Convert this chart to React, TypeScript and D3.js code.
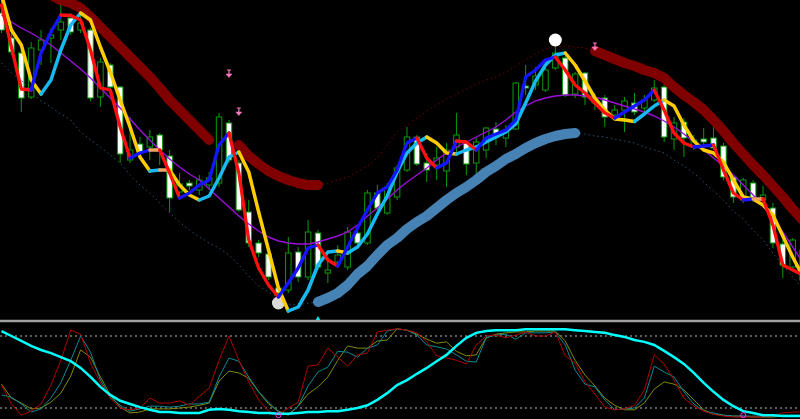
import React from 'react';
import * as d3 from 'd3';

const W = 800;
const H = 419;

// ---- main panel data (price units) ----
const opens = [987, 962, 947, 903, 950, 962, 970, 982, 970, 970,
  903, 935, 913, 840, 856, 853, 865, 844, 808, 817,
  810, 815, 817, 877, 837, 788, 757, 746, 712, 710,
  748, 723, 767, 727, 738, 733, 767, 757, 807, 787,
  803, 830, 863, 837, 835, 829, 853, 857, 837, 850,
  871, 862, 871, 914, 915, 910, 932, 942, 906, 927,
  897, 902, 885, 890, 897, 892, 900, 913, 861, 878,
  853, 861, 862, 854, 823, 800, 817, 800, 792, 756,
  733, 720];
const highs = [1000, 967, 950, 958, 970, 972, 1000, 987, 985, 972,
  942, 937, 914, 883, 863, 870, 867, 850, 827, 820,
  825, 828, 887, 880, 840, 800, 760, 753, 718, 763,
  753, 780, 770, 743, 755, 773, 770, 810, 815, 817,
  835, 873, 865, 847, 853, 857, 887, 860, 862, 873,
  878, 875, 918, 935, 933, 940, 954, 944, 928, 928,
  907, 905, 895, 903, 907, 905, 920, 915, 883, 882,
  865, 872, 875, 857, 825, 822, 820, 814, 797, 760,
  762, 755];
const lows = [967, 945, 888, 901, 935, 937, 960, 965, 967, 899,
  893, 905, 837, 837, 843, 840, 835, 788, 805, 810,
  805, 810, 813, 837, 788, 753, 743, 720, 700, 707,
  718, 720, 730, 717, 732, 730, 753, 755, 790, 785,
  800, 828, 834, 818, 820, 813, 845, 825, 825, 842,
  855, 853, 870, 905, 910, 908, 930, 903, 902, 895,
  890, 873, 882, 868, 885, 888, 898, 858, 850, 843,
  850, 855, 850, 820, 797, 797, 798, 795, 752, 722,
  730, 715];
const closes = [970, 948, 902, 952, 960, 965, 978, 968, 977, 902,
  938, 913, 846, 850, 848, 863, 850, 802, 816, 814,
  820, 822, 883, 840, 790, 757, 747, 723, 707, 747,
  723, 768, 733, 730, 745, 768, 757, 807, 792, 813,
  832, 863, 836, 830, 842, 850, 865, 836, 858, 872,
  863, 870, 917, 912, 924, 930, 947, 905, 926, 903,
  902, 883, 890, 899, 888, 900, 912, 863, 877, 862,
  860, 858, 852, 823, 803, 820, 800, 805, 757, 735,
  760, 750];

const fastMA = [995, 953, 911, 910, 947, 968, 985, 984.5, 980, 950,
  912, 910, 873, 842, 847, 850, 850, 827, 802, 807,
  815, 820, 855, 867, 827, 760, 732, 715, 703, 717,
  732, 752, 755, 740, 734, 753, 772, 790, 807, 813,
  830, 857, 862, 842, 832, 837, 859, 858, 850, 862,
  866, 870, 880, 923, 930, 940, 943, 930, 915, 907,
  897, 887, 882, 888, 894, 900, 910, 890, 867, 857,
  853, 854, 855, 830, 807, 800, 801, 801, 775, 735,
  730, 725];
const slowMA = [1005, 970, 955, 920, 906, 920, 950, 975, 987, 980,
  953, 928, 900, 873, 843, 829, 830, 830, 815, 805,
  800, 804, 822, 843, 848, 828, 788, 750, 712, 689,
  693, 710, 735, 748, 749, 747, 753, 766, 786, 804,
  828, 847, 857, 863, 857, 847, 846, 850, 853, 858,
  863, 868, 876, 897, 919, 935, 945, 947, 935, 919,
  902, 890, 881, 880, 878.5, 886, 894, 900, 894, 875,
  859, 850, 847, 838, 820, 803, 801, 795, 785, 764,
  743, 724];
const midMA = [985, 978, 972, 967, 961, 955, 947, 939, 931, 922,
  912, 902, 892, 881, 870, 860, 850, 841, 833, 826,
  820, 811, 802, 793, 784, 776, 769, 763, 759, 757,
  756, 756, 758, 761, 764, 768, 775, 784, 792, 801,
  810, 818, 825, 832, 840, 847, 853, 858, 863, 868,
  873, 880, 888, 894, 899, 902, 904, 905, 905, 904,
  903, 900, 897, 894, 891, 888, 884, 879, 873, 866,
  858, 850, 842, 834, 825, 815, 805, 794, 782, 768,
  753, 738];
const upperBand: (number | null)[] = [1036, 1030, 1024, 1018, 1012, 1005, 1000, 997, 992, 983,
  973, 963, 953, 943, 933, 923, 912, 900, 890, 880,
  870, 860, null, null, 855, 844, 836, 829, 824, 820,
  817, 815, 815, 817, 820, 823, 828, 834, 842, 855,
  868, 875, 882, 889, 895, 901, 906, 911, 916, 920,
  923, 928, 934, 940, 946, 951, 953, 954, 953, 952,
  949, 945, 941, 937, 934, 930, 927, 922, 913, 905,
  898, 890, 880, 869, 857, 846, 835, 825, 814, 803,
  791, 780];
const lowerBand = [937, 927, 920, 908, 899, 893, 886, 880, 868, 860,
  853, 845, 837, 825, 815, 807, 797, 787, 778, 770,
  763, 757, 752, 745, 735, 724, 714, 708, 702, 696,
  695, 697, 698, 702, 707, 715, 726, 734, 745, 755,
  762, 771, 778, 784, 792, 800, 807, 813, 820, 828,
  834, 841, 846, 852, 857, 861, 864, 866, 867, 866,
  864, 863, 861, 859, 857, 853, 850, 847, 840, 834,
  827, 818, 809, 800, 789, 781, 770, 760, 747, 735,
  723, 712];
const trend = [-1, -1, -1, -1, -1, -1, -1, -1, -1, -1,
  -1, -1, -1, -1, -1, -1, -1, -1, -1, -1,
  -1, -1, -1, -1, -1, -1, -1, -1, -1, -1,
  -1, -1, -1, 1, 1, 1, 1, 1, 1, 1,
  1, 1, 1, 1, 1, 1, 1, 1, 1, 1,
  1, 1, 1, 1, 1, 1, 1, 1, 1, 0,
  0, -1, -1, -1, -1, -1, -1, -1, -1, -1,
  -1, -1, -1, -1, -1, -1, -1, -1, -1, -1,
  -1, -1];

const sellArrows = [{ i: 23, price: 926 }, { i: 24, price: 888 }, { i: 60, price: 953 }];
const signalDots = [{ i: 28, price: 697 }, { i: 56, price: 960 }];
const buyMarks = [{ i: 32, price: 682 }];

// ---- oscillator panel data (0..100) ----
const oscCyan = [95.5, 90, 84.5, 79, 74.5, 71, 66.5, 62, 54.5, 44.5,
  33.5, 24.5, 18, 14.5, 11, 8, 5.5, 5.5, 4.5, 4.5,
  4.5, 8, 9, 8, 6.5, 5.5, 4.5, 4.5, 3.5, 3.5,
  4.5, 5.5, 5.5, 6.5, 6.5, 8, 10, 13, 19, 26.5,
  35.5, 41, 48, 54.5, 62, 69, 79, 88, 93.5, 95.5,
  96.5, 96.5, 96.5, 97.5, 97.5, 97.5, 97.5, 97.5, 96.5, 95.5,
  94.5, 93.5, 91, 89, 85.5, 83.5, 80, 73.5, 66.5, 59,
  49, 38, 28, 19, 12, 6.5, 4.5, 2, 2, 1,
  1, 1];
const oscRed = [35.5, 14.5, 2, 6.5, 14.5, 35.5, 63, 96.5, 92, 60,
  38, 21, 10, 8, 10, 21, 15.5, 15.5, 18, 13,
  23, 32, 63, 90, 63, 39, 19, 6.5, 2, 10,
  16.5, 56.5, 58, 76.5, 66.5, 56.5, 69, 71, 94.5, 96.5,
  98, 96.5, 93.5, 83.5, 68, 65.5, 63, 59, 80, 90,
  91, 88, 91, 94.5, 90, 90, 94.5, 68, 60, 39,
  25.5, 11, 8, 9, 13, 30, 69, 59, 41, 21,
  12, 6.5, 3, 1, 0, 0, 0, 0, 1, 4.5,
  5.5, 5.5];
const oscTeal = [24.5, 22, 14.5, 5.5, 9, 21, 38, 63, 90, 72,
  41, 22, 13, 6.5, 9, 12, 12, 11, 12, 14.5,
  14.5, 16.5, 44.5, 65.5, 62, 44.5, 28, 16.5, 5.5, 2,
  12, 34.5, 50, 55.5, 73, 72, 66.5, 76.5, 80, 95.5,
  98, 96.5, 91, 80, 78, 75.5, 69, 62, 61, 88,
  91, 92, 86.5, 93.5, 93.5, 93.5, 94.5, 80, 52, 36.5,
  33.5, 19, 8, 9, 10, 21, 56.5, 50, 44.5, 28,
  14.5, 6.5, 4.5, 2, 1, 1, 1, 1, 1, 2,
  2, 2];
const oscOlive = [36.5, 21, 15.5, 9, 10, 16.5, 26.5, 45.5, 74.5, 66.5,
  44.5, 24.5, 11, 4.5, 5.5, 9, 9, 9, 10, 11,
  13, 15.5, 40, 51, 49, 43, 28, 14.5, 6.5, 3,
  12, 25.5, 33.5, 44.5, 63, 79, 76.5, 76.5, 84.5, 85.5,
  98, 96.5, 92, 86.5, 82, 83.5, 73, 68, 69, 88,
  92, 93.5, 94.5, 94.5, 95.5, 95.5, 95.5, 84.5, 63, 46.5,
  34.5, 21, 13, 8, 8, 15.5, 31, 39, 36.5, 30,
  19, 8, 3, 2, 1, 1, 0, 0, 0, 1,
  1, 1];
const oscLevels = [90, 10];
const oscMarks = [{ i: 28, v: 2 }, { i: 75, v: 2 }];

// ---- helpers ----
function runs(n: number, keyOf: (i: number) => string | null) {
  const out: { key: string; idx: number[] }[] = [];
  for (let i = 1; i < n; i++) {
    const k = keyOf(i);
    if (k === null) continue;
    const last = out[out.length - 1];
    if (last && last.key === k && last.idx[last.idx.length - 1] === i - 1) last.idx.push(i);
    else out.push({ key: k, idx: [i - 1, i] });
  }
  return out;
}

export default function App() {
  const n = closes.length;
  const x = d3.scaleLinear().domain([0, 80]).range([1.5, 792.7]);
  const y = d3.scaleLinear().domain([680, 1000]).range([320, 0]);
  const yo = d3.scaleLinear().domain([0, 100]).range([417, 327]);

  const lineOf = (vals: (number | null)[]) =>
    d3.line<number>().x((i) => x(i)).y((i) => y(vals[i] as number));
  const oscLine = (vals: number[]) =>
    d3.line<number>().x((_, k) => x(k)).y((v) => yo(v))(vals) || '';

  const dirKey = (vals: number[], up: string, down: string, flat: string) => (i: number) =>
    vals[i] > vals[i - 1] ? up : vals[i] < vals[i - 1] ? down : flat;

  const fastRuns = runs(n, dirKey(fastMA, '#1515ff', '#ff1010', '#f4a460'));
  const slowRuns = runs(n, dirKey(slowMA, '#18b8f0', '#ffcc00', '#f4a460'));

  const upThick = runs(n, (i) => (upperBand[i] != null && upperBand[i - 1] != null && trend[i] === -1 ? 'a' : null));
  const upDot = runs(n, (i) => (upperBand[i] != null && upperBand[i - 1] != null && trend[i] !== -1 ? 'a' : null));
  const loThick = runs(n, (i) => (trend[i] === 1 ? 'a' : null));
  const loDot = runs(n, (i) => (trend[i] !== 1 ? 'a' : null));

  const green = '#0a9a0a';
  const bodyW = 5.5;

  return (
    <svg width={W} height={H} style={{ position: 'absolute', left: 0, top: 0, display: 'block' }}>
      <defs>
        <clipPath id="mainClip"><rect x={0} y={0} width={W} height={320} /></clipPath>
        <clipPath id="oscClip"><rect x={0} y={323} width={W} height={H - 323} /></clipPath>
      </defs>
      <rect x={0} y={0} width={W} height={H} fill="#000" />

      <g clipPath="url(#mainClip)">
        {closes.map((c, i) => {
          const o = opens[i];
          const top = y(Math.max(o, c));
          const h = Math.max(1, Math.abs(y(o) - y(c)));
          return (
            <g key={i}>
              <line x1={x(i)} x2={x(i)} y1={y(highs[i])} y2={y(lows[i])} stroke={green} strokeWidth={1} />
              <rect x={x(i) - bodyW / 2} y={top} width={bodyW} height={h}
                fill={c < o ? '#ffffff' : '#000000'} stroke={green} strokeWidth={1} />
            </g>
          );
        })}

        {upDot.map((r, k) => (
          <path key={'ud' + k} d={lineOf(upperBand)(r.idx) || ''} fill="none" stroke="#7a0000" strokeWidth={1} strokeDasharray="1.5 3" />
        ))}
        {loDot.map((r, k) => (
          <path key={'ld' + k} d={lineOf(lowerBand)(r.idx) || ''} fill="none" stroke="#2c5470" strokeWidth={1} strokeDasharray="1.5 3" />
        ))}

        <path d={lineOf(midMA)(d3.range(n)) || ''} fill="none" stroke="#9a10d8" strokeWidth={1.4} />

        {upThick.map((r, k) => (
          <path key={'ut' + k} d={lineOf(upperBand)(r.idx) || ''} fill="none" stroke="#800000" strokeWidth={10} strokeLinecap="round" strokeLinejoin="round" />
        ))}
        {loThick.map((r, k) => (
          <path key={'lt' + k} d={lineOf(lowerBand)(r.idx) || ''} fill="none" stroke="#4682b4" strokeWidth={10} strokeLinecap="round" strokeLinejoin="round" />
        ))}

        {signalDots.map((s, k) => (
          <circle key={'sd' + k} cx={x(s.i)} cy={y(s.price)} r={6.5} fill="#ffffff" opacity={k === 0 ? 0.85 : 1} />
        ))}

        {slowRuns.map((r, k) => (
          <path key={'s' + k} d={lineOf(slowMA)(r.idx) || ''} fill="none" stroke={r.key} strokeWidth={3.5} strokeLinecap="round" strokeLinejoin="round" />
        ))}
        {fastRuns.map((r, k) => (
          <path key={'f' + k} d={lineOf(fastMA)(r.idx) || ''} fill="none" stroke={r.key} strokeWidth={3.3} strokeLinecap="round" strokeLinejoin="round" />
        ))}

        {sellArrows.map((a, k) => {
          const cx = x(a.i);
          const cy = y(a.price);
          return (
            <g key={'sa' + k} stroke="#ff78c0" fill="#ff78c0">
              <line x1={cx} x2={cx} y1={cy - 4} y2={cy + 1} strokeWidth={1.2} />
              <line x1={cx - 2} x2={cx + 2} y1={cy - 4} y2={cy - 4} strokeWidth={1} />
              <path d={`M${cx - 3},${cy} L${cx + 3},${cy} L${cx},${cy + 3.5} Z`} strokeWidth={0.5} />
            </g>
          );
        })}

        {buyMarks.map((b, k) => {
          const cx = x(b.i);
          const cy = y(b.price);
          return <path key={'bm' + k} d={`M${cx - 3},${cy + 3} L${cx + 3},${cy + 3} L${cx},${cy - 2} Z`} fill="#00e5e5" />;
        })}
      </g>

      <line x1={0} x2={W} y1={321} y2={321} stroke="#a0a0a0" strokeWidth={2.5} />

      <g clipPath="url(#oscClip)">
        {oscLevels.map((lv) => (
          <line key={lv} x1={0} x2={W} y1={yo(lv)} y2={yo(lv)} stroke="#b8b8b8" strokeWidth={1} strokeDasharray="2 3" />
        ))}
        <path d={oscLine(oscOlive)} fill="none" stroke="#7f8c00" strokeWidth={1} />
        <path d={oscLine(oscTeal)} fill="none" stroke="#0a8a96" strokeWidth={1} />
        <path d={oscLine(oscRed)} fill="none" stroke="#b00000" strokeWidth={1} />
        <path d={oscLine(oscCyan)} fill="none" stroke="#00ffff" strokeWidth={2.5} />
        {oscMarks.map((m, k) => (
          <circle key={'om' + k} cx={x(m.i)} cy={yo(m.v)} r={2.5} fill="none" stroke="#ff30ff" strokeWidth={1} />
        ))}
      </g>
    </svg>
  );
}
